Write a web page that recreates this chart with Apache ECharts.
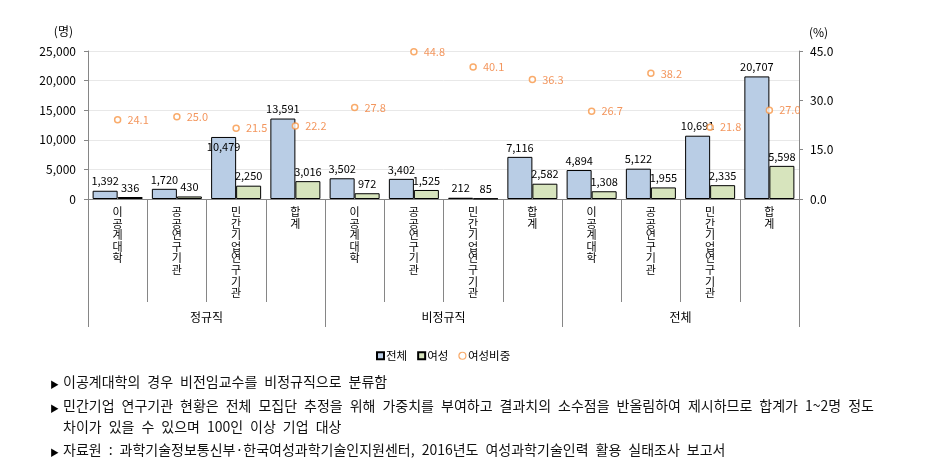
<!DOCTYPE html>
<html>
<head>
<meta charset="utf-8">
<script src="https://cdn.jsdelivr.net/npm/echarts@6/dist/echarts.min.js"></script>
<style>
html,body{margin:0;padding:0;background:#fff;}
#chart{width:931px;height:471px;}
</style>
</head>
<body>
<div id="chart"></div>
<script>
const categories = ['이공계대학','공공연구기관','민간기업연구기관','합계','이공계대학','공공연구기관','민간기업연구기관','합계','이공계대학','공공연구기관','민간기업연구기관','합계'];
const groups = ['정규직','비정규직','전체'];
const totalValues = [1392, 1720, 10479, 13591, 3502, 3402, 212, 7116, 4894, 5122, 10691, 20707];
const womenValues = [336, 430, 2250, 3016, 972, 1525, 85, 2582, 1308, 1955, 2335, 5598];
const womenShare = [24.1, 25.0, 21.5, 22.2, 27.8, 44.8, 40.1, 36.3, 26.7, 38.2, 21.8, 27.0];
const leftTicks = [0, 5000, 10000, 15000, 20000, 25000];
const rightTicks = [0.0, 15.0, 30.0, 45.0];
const seriesNames = ['전체','여성','여성비중'];
const notes = [
  '이공계대학의 경우 비전임교수를 비정규직으로 분류함',
  '민간기업 연구기관 현황은 전체 모집단 추정을 위해 가중치를 부여하고 결과치의 소수점을 반올림하여 제시하므로 합계가 1~2명 정도',
  '차이가 있을 수 있으며 100인 이상 기업 대상',
  '자료원 : 과학기술정보통신부·한국여성과학기술인지원센터, 2016년도 여성과학기술인력 활용 실태조사 보고서'
];
const noteBullets = [true, true, false, true];

const FONT = '"Noto Sans CJK KR", "Noto Sans", sans-serif';
const AX = '#868686';
const fmtInt = v => Number(v).toLocaleString('en-US');

const chart = echarts.init(document.getElementById('chart'));

const noteY = [385, 409, 430, 453];
const graphics = [];
notes.forEach((t, i) => {
  if (noteBullets[i]) {
    graphics.push({type:'text', left: 50, top: noteY[i] - 5, style:{text:'▶', fill:'#000', font: '9px ' + FONT}});
  }
  graphics.push({type:'text', left: 63, top: noteY[i] - 10, style:{text: t.replace(/ /g, '\u2002'), fill:'#111', font: '14px ' + FONT}});
});

// label placement tweak for the bar whose label sits inside its top (as in the source)
const insideTopTotal = {2: true};

chart.setOption({
  animation: false,
  backgroundColor: '#fff',
  textStyle: {fontFamily: FONT},
  grid: {left: 88, right: 132, top: 51, bottom: 272, containLabel: false},
  legend: {
    left: 371, top: 345,
    itemWidth: 7, itemHeight: 7, itemGap: 10,
    textStyle: {fontSize: 11.5, color: '#000', fontFamily: FONT, padding: [0,0,0,-3]},
    data: [
      {name: seriesNames[0], icon: 'rect'},
      {name: seriesNames[1], icon: 'rect'},
      {name: seriesNames[2], icon: 'circle', itemStyle: {color: '#fff', borderColor: '#f79646', borderWidth: 1.2}}
    ]
  },
  xAxis: [
    {
      type: 'category', position: 'bottom', data: categories,
      axisLine: {show: true, lineStyle: {color: AX}},
      axisTick: {show: true, interval: 0, length: 103, lineStyle: {color: AX}},
      axisLabel: {interval: 0, margin: 7, fontSize: 11, lineHeight: 11.6, color: '#000', fontFamily: FONT,
        formatter: v => v.split('').join('\n')}
    },
    {
      type: 'category', position: 'bottom', data: groups,
      axisLine: {show: false},
      axisTick: {show: true, interval: 0, length: 128, lineStyle: {color: AX}},
      axisLabel: {interval: 0, margin: 112, fontSize: 12, color: '#000', fontFamily: FONT}
    }
  ],
  yAxis: [
    {
      type: 'value', min: leftTicks[0], max: leftTicks[leftTicks.length-1], interval: leftTicks[1]-leftTicks[0],
      name: '(명)', nameLocation: 'end', nameGap: 14,
      nameTextStyle: {fontSize: 12, color: '#000', align: 'right', padding: [0, 15, 0, 0], fontFamily: FONT},
      axisLine: {show: true, lineStyle: {color: AX}},
      axisTick: {show: true, length: 4, lineStyle: {color: AX}},
      splitLine: {show: true, lineStyle: {color: '#e8e8e8'}},
      axisLabel: {fontSize: 12, color: '#000', margin: 12, formatter: v => fmtInt(v), fontFamily: FONT}
    },
    {
      type: 'value', position: 'right', min: rightTicks[0], max: rightTicks[rightTicks.length-1], interval: rightTicks[1]-rightTicks[0],
      name: '(%)', nameLocation: 'end', nameGap: 13,
      nameTextStyle: {fontSize: 12, color: '#000', align: 'left', padding: [0, 0, 0, 10], fontFamily: FONT},
      axisLine: {show: true, lineStyle: {color: AX}},
      axisTick: {show: true, length: 4, lineStyle: {color: AX}},
      splitLine: {show: false},
      axisLabel: {fontSize: 12, color: '#000', margin: 11, formatter: v => Number(v).toFixed(1), fontFamily: FONT}
    }
  ],
  series: [
    {
      name: seriesNames[0], type: 'bar', barGap: '0%', barCategoryGap: '15.6%',
      data: totalValues.map((v, i) => insideTopTotal[i]
        ? {value: v, label: {position: 'insideTop', distance: 4}}
        : v),
      itemStyle: {color: '#b9cde5', borderColor: '#000', borderWidth: 1},
      label: {show: true, position: 'top', distance: 4, fontSize: 11, color: '#000', formatter: p => fmtInt(p.value), fontFamily: FONT}
    },
    {
      name: seriesNames[1], type: 'bar', data: womenValues,
      itemStyle: {color: '#d7e4bd', borderColor: '#000', borderWidth: 1},
      label: {show: true, position: 'top', distance: 4, fontSize: 11, color: '#000', formatter: p => fmtInt(p.value), fontFamily: FONT}
    },
    {
      name: seriesNames[2], type: 'scatter', yAxisIndex: 1, data: womenShare,
      symbol: 'circle', symbolSize: 6,
      itemStyle: {color: '#fff', borderColor: '#f79646', borderWidth: 1.5},
      label: {show: true, position: 'right', distance: 6, fontSize: 11, color: '#f07c35', formatter: p => Number(p.value).toFixed(1), fontFamily: FONT},
      z: 5
    }
  ],
  graphic: graphics
});
</script>
</body>
</html>
